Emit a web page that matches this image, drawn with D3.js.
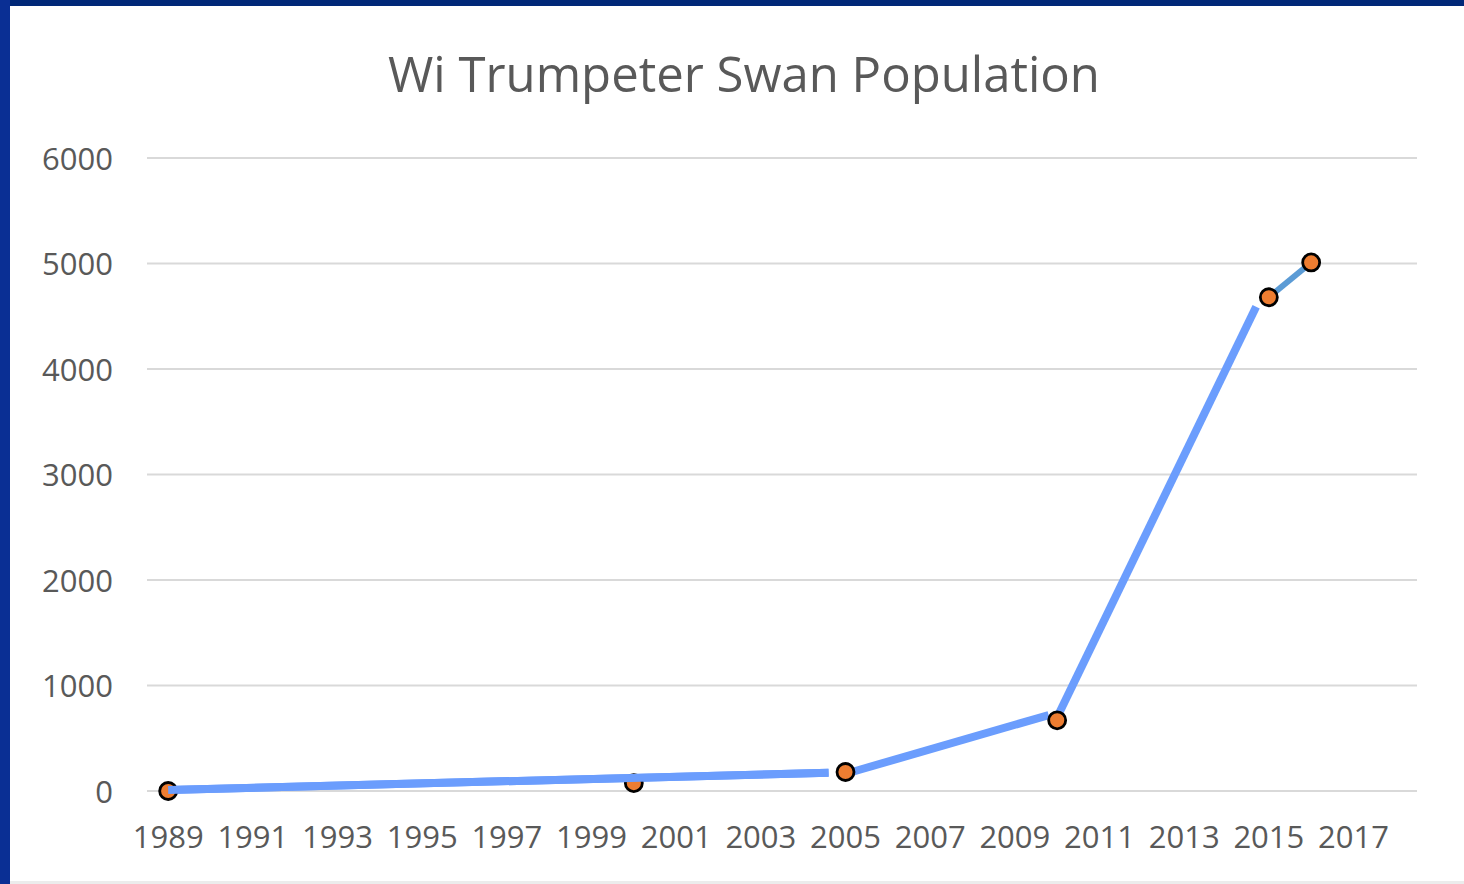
<!DOCTYPE html>
<html>
<head>
<meta charset="utf-8">
<script src="https://cdn.jsdelivr.net/npm/d3@7"></script>
<style>
  html, body { margin: 0; padding: 0; background: #ffffff; }
  svg { display: block; }
  text { font-family: "Open Sans", sans-serif; fill: #595959; }
</style>
</head>
<body>
<div class="chart"></div>
<script>
// Data.
let title = 'Wi Trumpeter Swan Population';
let years = d3.range(1989, 2019);              // category axis, one slot per year
let tickYears = d3.range(1989, 2018, 2);       // labelled every 2 years
let yTicks = [0, 1000, 2000, 3000, 4000, 5000, 6000];

// Survey counts (orange markers).
let pointYears = [1989, 2000, 2005, 2010, 2015, 2016];
let pointValues = [0, 75, 180, 670, 4680, 5010];

// Hand-drawn highlight line over the chart, as [year, value] pieces.
let overlayPieces = [
    [[1989, 10], [2004.6, 172]],
    [[2005.15, 180], [2009.8, 720]],
    [[2010, 700], [2014.7, 4590]]
];

// Build constants.
let width = 1464,
    height = 884,
    plot = {left: 147, right: 1417, top: 158, bottom: 791};

let svg = d3.select('.chart')
    .append('svg')
        .attr('width', width)
        .attr('height', height);

// Frame: navy border on the top and left.
svg.append('rect')
    .attr('x', 0).attr('y', 0)
    .attr('width', width).attr('height', height)
    .attr('fill', '#ffffff');
svg.append('rect')
    .attr('x', 0).attr('y', 0)
    .attr('width', width).attr('height', 6)
    .attr('fill', '#012878');
svg.append('rect')
    .attr('x', 0).attr('y', 0)
    .attr('width', 10).attr('height', height)
    .attr('fill', '#0a2f94');
svg.append('rect')
    .attr('x', 10).attr('y', 881)
    .attr('width', width - 10).attr('height', 3)
    .attr('fill', '#ececec');

// Scales.
let x = d3.scaleBand()
    .domain(years)
    .range([plot.left, plot.right]);

// Continuous year position matching the band centres.
let xYear = d3.scaleLinear()
    .domain([years[0] - 0.5, years[years.length - 1] + 0.5])
    .range([plot.left, plot.right]);

let y = d3.scaleLinear()
    .domain([0, 6000])
    .range([plot.bottom, plot.top]);

// Gridlines.
svg.append('g')
    .selectAll('line')
    .data(yTicks)
    .join('line')
        .attr('x1', plot.left)
        .attr('x2', plot.right)
        .attr('y1', d => y(d))
        .attr('y2', d => y(d))
        .attr('stroke', '#d9d9d9')
        .attr('stroke-width', 2);

// Y axis labels.
let yAxis = svg.append('g')
    .attr('transform', `translate(${plot.left - 34}, 0)`)
    .call(d3.axisLeft(y).tickValues(yTicks).tickFormat(d3.format('d')).tickSize(0).tickPadding(0));
yAxis.select('.domain').remove();
yAxis.selectAll('text')
    .attr('font-size', 31)
    .attr('fill', '#595959')
    .attr('dy', '0.36em')
    .style('font-family', '"Open Sans", sans-serif');

// X axis labels.
let xAxis = svg.append('g')
    .attr('transform', `translate(0, ${plot.bottom})`)
    .call(d3.axisBottom(x).tickValues(tickYears).tickSize(0).tickPadding(0));
xAxis.select('.domain').remove();
xAxis.selectAll('text')
    .attr('font-size', 31)
    .attr('fill', '#595959')
    .attr('y', 57)
    .attr('dy', 0)
    .style('font-family', '"Open Sans", sans-serif');

// Title, fitted to the width it takes in the picture.
let titleText = svg.append('text')
    .attr('x', 744)
    .attr('y', 92)
    .attr('text-anchor', 'middle')
    .attr('font-size', 48)
    .text(title);
let w = titleText.node().getComputedTextLength();
titleText.attr('font-size', 48 * 712 / w);

// Chart series line between the last two counts.
let line = d3.line()
    .x(d => xYear(d[0]))
    .y(d => y(d[1]));

let lastPair = pointYears.slice(-2).map((yr, i) => [yr, pointValues[pointValues.length - 2 + i]]);
svg.append('path')
    .datum(lastPair)
    .attr('d', line)
    .attr('fill', 'none')
    .attr('stroke', '#5b9bd5')
    .attr('stroke-width', 6);

// Highlight line pieces.
svg.append('g')
    .selectAll('path')
    .data(overlayPieces)
    .join('path')
        .attr('d', line)
        .attr('fill', 'none')
        .attr('stroke', '#6b9dfd')
        .attr('stroke-width', 8);

// Markers.
svg.append('g')
    .selectAll('circle')
    .data(pointYears.map((yr, i) => ({year: yr, value: pointValues[i]})))
    .join('circle')
        .attr('cx', d => x(d.year) + x.bandwidth() / 2)
        .attr('cy', d => y(d.value))
        .attr('r', 8.5)
        .attr('fill', '#ed7d31')
        .attr('stroke', '#000000')
        .attr('stroke-width', 2.8);

// Line drawn over the first two markers in the picture.
svg.append('path')
    .datum(overlayPieces[0])
    .attr('d', line)
    .attr('fill', 'none')
    .attr('stroke', '#6b9dfd')
    .attr('stroke-width', 8);
</script>
</body>
</html>
